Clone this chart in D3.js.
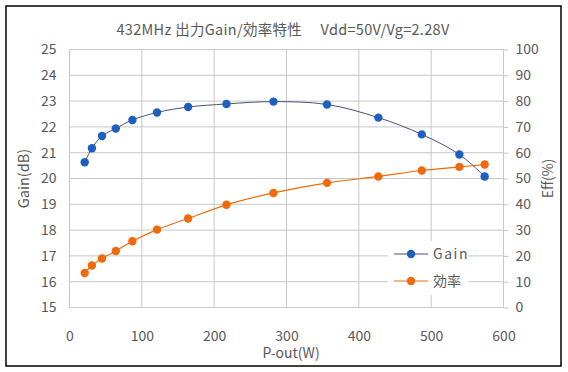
<!DOCTYPE html>
<html>
<head>
<meta charset="utf-8">
<script src="https://cdn.jsdelivr.net/npm/d3@7"></script>
<style>
  body { margin: 0; background: #fff; }
  text { font-family: "Noto Sans CJK JP", "Noto Sans", sans-serif; fill: #595959; }
</style>
</head>
<body>
<div id="chart"></div>
<script>
"use strict"
// Data
var pOut = [21, 31, 45, 64, 87, 121, 164, 217, 282, 356, 427, 487, 539, 574]
var gain = [20.63, 21.17, 21.65, 21.94, 22.27, 22.56, 22.77, 22.89, 22.98, 22.87, 22.36, 21.71, 20.93, 20.08]
var eff = [13.4, 16.3, 19.0, 21.9, 25.7, 30.2, 34.5, 39.8, 44.4, 48.3, 50.8, 53.1, 54.5, 55.4]
var gainTicks = [15, 16, 17, 18, 19, 20, 21, 22, 23, 24, 25]
var effTicks = [0, 10, 20, 30, 40, 50, 60, 70, 80, 90, 100]
var xTicks = [0, 100, 200, 300, 400, 500, 600]
var seriesNames = ["Gain", "効率"]

var width = 568
var height = 372
var margin = { top: 49.5, right: 64.5, bottom: 64.5, left: 69.5 }
var drawWidth = width - margin.left - margin.right
var drawHeight = height - margin.top - margin.bottom

var gridColor = "#c8c8c8"
var blueMark = "#1f5fbf"
var blueLine = "#4a4f7a"
var orange = "#f06a0c"

var xScale = d3.scaleLinear().domain([0, 600]).range([0, drawWidth])
var yGain = d3.scaleLinear().domain([15, 25]).range([drawHeight, 0])
var yEff = d3.scaleLinear().domain([0, 100]).range([drawHeight, 0])

var svg = d3.select("#chart").append("svg")
    .attr("width", width)
    .attr("height", height)

// outer chart border
svg.append("rect")
    .attr("x", 6).attr("y", 6)
    .attr("width", 555).attr("height", 360)
    .attr("fill", "#fff")
    .attr("stroke", "#000")
    .attr("stroke-width", 1.5)

var g = svg.append("g")
    .attr("transform", "translate(" + margin.left + "," + margin.top + ")")

// gridlines
g.append("g").attr("class", "grid")
  .selectAll("line").data(gainTicks).enter().append("line")
    .attr("x1", 0).attr("x2", drawWidth)
    .attr("y1", function(d) { return yGain(d) })
    .attr("y2", function(d) { return yGain(d) })
    .attr("stroke", gridColor)

g.append("g").attr("class", "grid")
  .selectAll("line").data(xTicks).enter().append("line")
    .attr("x1", function(d) { return xScale(d) })
    .attr("x2", function(d) { return xScale(d) })
    .attr("y1", 0).attr("y2", drawHeight)
    .attr("stroke", gridColor)

// left axis (labels only)
var yAxisL = d3.axisLeft(yGain).tickValues(gainTicks).tickSize(0).tickPadding(13)
var gl = g.append("g").call(yAxisL)
gl.select(".domain").remove()
gl.selectAll("text").style("font-size", "14px").attr("fill", "#595959")

// right axis, small ticks outside
var yAxisR = d3.axisRight(yEff).tickValues(effTicks).tickSize(5).tickPadding(7)
var gr = g.append("g")
    .attr("transform", "translate(" + drawWidth + ",0)")
    .call(yAxisR)
gr.select(".domain").remove()
gr.selectAll("line").attr("stroke", gridColor)
gr.selectAll("text").style("font-size", "14px").attr("fill", "#595959")

var xAxis = d3.axisBottom(xScale).tickValues(xTicks).tickSize(0).tickPadding(24)
var gx = g.append("g")
    .attr("transform", "translate(0," + drawHeight + ")")
    .call(xAxis)
gx.select(".domain").remove()
gx.selectAll("text").style("font-size", "14px").attr("fill", "#595959")

// lines
var gainLine = d3.line()
    .x(function(d, i) { return xScale(pOut[i]) })
    .y(function(d) { return yGain(d) })
    .curve(d3.curveCatmullRom.alpha(0.5))

var effLine = d3.line()
    .x(function(d, i) { return xScale(pOut[i]) })
    .y(function(d) { return yEff(d) })
    .curve(d3.curveCatmullRom.alpha(0.5))

g.append("path").datum(eff)
    .attr("fill", "none").attr("stroke", orange).attr("stroke-width", 1.2)
    .attr("d", effLine)

g.append("path").datum(gain)
    .attr("fill", "none").attr("stroke", blueLine).attr("stroke-width", 1)
    .attr("d", gainLine)

g.selectAll(".effDot").data(eff).enter().append("circle")
    .attr("class", "effDot")
    .attr("cx", function(d, i) { return xScale(pOut[i]) })
    .attr("cy", function(d) { return yEff(d) })
    .attr("r", 4.2)
    .attr("fill", orange)

g.selectAll(".gainDot").data(gain).enter().append("circle")
    .attr("class", "gainDot")
    .attr("cx", function(d, i) { return xScale(pOut[i]) })
    .attr("cy", function(d) { return yGain(d) })
    .attr("r", 4.2)
    .attr("fill", blueMark)

// legend
var legend = svg.append("g").attr("transform", "translate(388,241)")
legend.append("rect")
    .attr("width", 80).attr("height", 54)
    .attr("fill", "#fff")
var legendColors = [[blueLine, blueMark], [orange, orange]]
seriesNames.forEach(function(name, i) {
  var row = legend.append("g").attr("transform", "translate(0," + (13 + i * 27) + ")")
  row.append("line")
      .attr("x1", 6).attr("x2", 40)
      .attr("stroke", legendColors[i][0]).attr("stroke-width", 1.2)
  row.append("circle")
      .attr("cx", 23).attr("r", 4.2)
      .attr("fill", legendColors[i][1])
  row.append("text")
      .attr("x", 45).attr("dy", "0.36em")
      .style("font-size", "14px")
      .style("letter-spacing", i === 0 ? "1.5px" : "0px")
      .text(name)
})

// titles
svg.append("text")
    .attr("x", 283).attr("y", 35)
    .attr("text-anchor", "middle")
    .style("font-size", "14.5px")
    .style("letter-spacing", "0.3px")
    .style("white-space", "pre")
    .text("432MHz 出力Gain/効率特性　 Vdd=50V/Vg=2.28V")

svg.append("text")
    .attr("text-anchor", "middle")
    .attr("transform", "translate(29," + (margin.top + drawHeight / 2) + ") rotate(-90)")
    .style("font-size", "14.5px")
    .text("Gain(dB)")

svg.append("text")
    .attr("text-anchor", "middle")
    .attr("transform", "translate(553," + (margin.top + drawHeight / 2) + ") rotate(-90)")
    .style("font-size", "14px")
    .text("Eff(%)")

svg.append("text")
    .attr("x", 291).attr("y", 358)
    .attr("text-anchor", "middle")
    .style("font-size", "14px")
    .text("P-out(W)")
</script>
</body>
</html>
